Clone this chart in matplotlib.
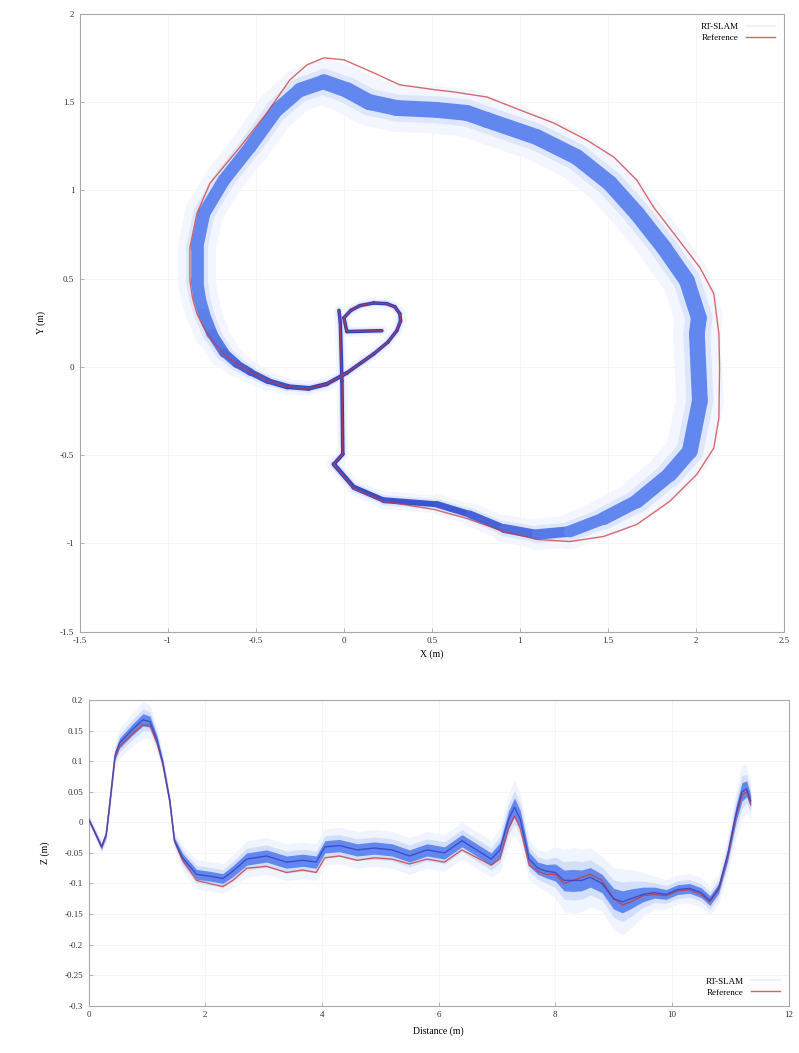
import numpy as np
import matplotlib
matplotlib.use('Agg')
import matplotlib.pyplot as plt
from matplotlib.collections import LineCollection
from matplotlib.colors import to_rgb
from matplotlib.lines import Line2D
from matplotlib.ticker import FuncFormatter

plt.rcParams['font.family'] = ['Liberation Serif', 'DejaVu Serif']

# ---- top: trajectory in the X/Y plane (m) ----
ref_x = [-0.028, -0.023, -0.011, -0.006, -0.057, 0.057, 0.227, 0.511, 0.699, 0.909,
         1.097, 1.284, 1.477, 1.665, 1.852, 2.006, 2.102, 2.131, 2.135, 2.131,
         2.102, 2.023, 1.892, 1.761, 1.665, 1.534, 1.381, 1.193, 1.000, 0.813,
         0.625, 0.528, 0.318, 0.170, 0.000, -0.114, -0.210, -0.307, -0.438, -0.591,
         -0.761, -0.835, -0.875, -0.875, -0.860, -0.835, -0.800, -0.750, -0.680, -0.608,
         -0.530, -0.430, -0.320, -0.200, -0.097, 0.017, 0.170, 0.250, 0.301, 0.322,
         0.318, 0.290, 0.244, 0.170, 0.091, 0.040, 0.000, 0.017, 0.216]
ref_y = [0.320, 0.250, -0.080, -0.494, -0.551, -0.688, -0.761, -0.807, -0.858, -0.932,
         -0.977, -0.989, -0.960, -0.892, -0.761, -0.608, -0.460, -0.290, -0.006, 0.188,
         0.415, 0.563, 0.733, 0.903, 1.057, 1.188, 1.284, 1.381, 1.455, 1.528,
         1.557, 1.568, 1.597, 1.665, 1.739, 1.750, 1.710, 1.625, 1.438, 1.244,
         1.040, 0.869, 0.676, 0.489, 0.390, 0.301, 0.230, 0.150, 0.070, 0.017,
         -0.030, -0.080, -0.112, -0.122, -0.097, -0.034, 0.074, 0.140, 0.205, 0.260,
         0.301, 0.340, 0.358, 0.362, 0.347, 0.320, 0.278, 0.200, 0.205]

slam_x = [-0.028, -0.020, -0.011, -0.006, -0.057, 0.057, 0.227, 0.528, 0.716, 0.909,
          1.097, 1.284, 1.477, 1.665, 1.852, 1.966, 2.023, 2.006, 2.017, 1.949,
          1.818, 1.665, 1.511, 1.324, 1.097, 0.813, 0.699, 0.528, 0.301, 0.142,
          0.017, -0.114, -0.250, -0.381, -0.534, -0.682, -0.795, -0.835, -0.835, -0.820,
          -0.795, -0.750, -0.680, -0.608, -0.530, -0.430, -0.320, -0.200, -0.097, 0.017,
          0.170, 0.250, 0.301, 0.322, 0.318, 0.290, 0.244, 0.170, 0.091, 0.040,
          0.000, 0.017, 0.216]
slam_y = [0.320, 0.250, -0.080, -0.494, -0.551, -0.682, -0.755, -0.778, -0.835, -0.915,
          -0.949, -0.932, -0.858, -0.761, -0.608, -0.477, -0.193, 0.188, 0.278, 0.489,
          0.676, 0.869, 1.040, 1.188, 1.301, 1.398, 1.438, 1.455, 1.466, 1.500,
          1.568, 1.614, 1.568, 1.455, 1.244, 1.057, 0.869, 0.676, 0.489, 0.390,
          0.301, 0.188, 0.080, 0.017, -0.030, -0.080, -0.112, -0.122, -0.097, -0.034,
          0.074, 0.140, 0.205, 0.260, 0.301, 0.340, 0.358, 0.362, 0.347, 0.320,
          0.278, 0.200, 0.205]
slam_spread = [0.010, 0.010, 0.010, 0.010, 0.012, 0.014, 0.016, 0.018, 0.020, 0.024,
               0.028, 0.032, 0.036, 0.040, 0.042, 0.045, 0.045, 0.045, 0.045, 0.045,
               0.045, 0.045, 0.045, 0.045, 0.045, 0.045, 0.045, 0.045, 0.045, 0.045,
               0.045, 0.042, 0.040, 0.038, 0.036, 0.036, 0.036, 0.036, 0.036, 0.035,
               0.034, 0.031, 0.027, 0.023, 0.020, 0.017, 0.015, 0.013, 0.012, 0.011,
               0.010, 0.010, 0.010, 0.010, 0.010, 0.010, 0.010, 0.010, 0.010, 0.010,
               0.010, 0.010, 0.010]

# ---- bottom: height along travelled distance ----
dist = [0.00, 0.05, 0.22, 0.30, 0.36, 0.45, 0.53, 0.75, 0.93, 1.05,
        1.17, 1.27, 1.39, 1.47, 1.61, 1.85, 2.07, 2.30, 2.47, 2.71,
        3.05, 3.39, 3.67, 3.90, 4.05, 4.30, 4.60, 4.90, 5.20, 5.50,
        5.80, 6.10, 6.40, 6.70, 6.90, 7.05, 7.20, 7.30, 7.40, 7.55,
        7.70, 7.85, 8.00, 8.15, 8.30, 8.45, 8.60, 8.80, 9.00, 9.15,
        9.30, 9.50, 9.70, 9.90, 10.10, 10.30, 10.50, 10.65, 10.80, 10.95,
        11.10, 11.20, 11.28, 11.35]
ref_z = [0.005, -0.005, -0.040, -0.020, 0.030, 0.105, 0.125, 0.145, 0.160, 0.158,
         0.130, 0.095, 0.035, -0.030, -0.062, -0.095, -0.100, -0.105, -0.095, -0.075,
         -0.072, -0.082, -0.078, -0.082, -0.058, -0.055, -0.062, -0.058, -0.060, -0.068,
         -0.060, -0.065, -0.045, -0.060, -0.070, -0.060, -0.010, 0.010, -0.010, -0.070,
         -0.080, -0.085, -0.085, -0.100, -0.095, -0.090, -0.085, -0.095, -0.125, -0.135,
         -0.130, -0.120, -0.118, -0.120, -0.112, -0.110, -0.118, -0.130, -0.110, -0.060,
         0.010, 0.045, 0.050, 0.030]
slam_z = [0.005, -0.005, -0.040, -0.020, 0.030, 0.110, 0.130, 0.152, 0.168, 0.165,
          0.135, 0.098, 0.035, -0.030, -0.058, -0.085, -0.088, -0.092, -0.080, -0.060,
          -0.055, -0.065, -0.062, -0.065, -0.040, -0.038, -0.045, -0.042, -0.045, -0.055,
          -0.045, -0.050, -0.030, -0.048, -0.060, -0.045, 0.005, 0.025, 0.005, -0.060,
          -0.075, -0.080, -0.082, -0.095, -0.095, -0.095, -0.090, -0.100, -0.125, -0.130,
          -0.125, -0.118, -0.115, -0.118, -0.110, -0.108, -0.115, -0.128, -0.108, -0.055,
          0.015, 0.050, 0.055, 0.035]
slam_z_spread = [0.003, 0.003, 0.004, 0.004, 0.005, 0.007, 0.008, 0.009, 0.010, 0.009,
                 0.007, 0.005, 0.005, 0.005, 0.007, 0.008, 0.008, 0.008, 0.009, 0.010,
                 0.010, 0.010, 0.010, 0.010, 0.010, 0.010, 0.010, 0.010, 0.010, 0.010,
                 0.010, 0.010, 0.010, 0.010, 0.010, 0.012, 0.014, 0.015, 0.014, 0.011,
                 0.010, 0.011, 0.014, 0.017, 0.018, 0.017, 0.016, 0.015, 0.017, 0.018,
                 0.016, 0.012, 0.009, 0.008, 0.008, 0.008, 0.008, 0.008, 0.008, 0.010,
                 0.013, 0.015, 0.013, 0.010]

blue_dark = np.array(to_rgb('#2b3ec2'))
blue_mid = np.array(to_rgb('#6288ef'))
red = '#cc3b3b'
grey = '#a8a8a8'

fig = plt.figure(figsize=(7.99, 10.53), dpi=100)
ax1 = fig.add_axes([0.100, 0.400, 0.881, 0.587])
ax2 = fig.add_axes([0.111, 0.045, 0.876, 0.290])

ax1.set_xlim(-1.5, 2.5)
ax1.set_ylim(-1.5, 2)
pt_per_m = ax1.bbox.width / 4.0 * 72.0 / fig.dpi


def band(ax, x, y, spread, factor, colors, z):
    pts = np.column_stack([x, y])
    segs = np.stack([pts[:-1], pts[1:]], axis=1)
    s = np.asarray(spread)
    w = (s[:-1] + s[1:]) / 2 * 2 * factor * pt_per_m
    lc = LineCollection(segs, linewidths=w, colors=colors, capstyle='round',
                        joinstyle='round', zorder=z)
    ax.add_collection(lc)


s = np.asarray(slam_spread)
t = np.clip(((s[:-1] + s[1:]) / 2 - 0.010) / 0.025, 0, 1)
seg_cols = [tuple(blue_dark * (1 - v) + blue_mid * v) for v in t]

band(ax1, slam_x, slam_y, slam_spread, 3.0, '#f3f6fe', 1)
band(ax1, slam_x, slam_y, slam_spread, 1.7, '#dde6fc', 2)
band(ax1, slam_x, slam_y, slam_spread, 1.0, seg_cols, 3)
ax1.plot(ref_x, ref_y, color=red, lw=1.0, alpha=0.75, zorder=4)

# bottom panel
ax2.fill_between(dist, np.subtract(slam_z, np.multiply(slam_z_spread, 3.0)),
                 np.add(slam_z, np.multiply(slam_z_spread, 3.0)),
                 color='#f0f4fe', lw=0, zorder=1)
ax2.fill_between(dist, np.subtract(slam_z, np.multiply(slam_z_spread, 1.8)),
                 np.add(slam_z, np.multiply(slam_z_spread, 1.8)),
                 color='#d3defb', lw=0, zorder=2)
ax2.fill_between(dist, np.subtract(slam_z, slam_z_spread),
                 np.add(slam_z, slam_z_spread),
                 color='#6288ef', lw=0, zorder=3)
ax2.plot(dist, ref_z, color=red, lw=1.0, alpha=0.8, zorder=4)
ax2.plot(dist, slam_z, color='#3040c4', lw=1.0, alpha=0.8, zorder=5)

ax2.set_xlim(0, 12)
ax2.set_ylim(-0.3, 0.2)

ax1.set_xticks(np.round(np.arange(-1.5, 2.51, 0.5), 2))
ax1.set_yticks(np.round(np.arange(-1.5, 2.01, 0.5), 2))
ax2.set_xticks(np.round(np.arange(0, 12.1, 2), 2))
ax2.set_yticks(np.round(np.arange(-0.3, 0.201, 0.05), 2))
fmt = FuncFormatter(lambda v, p: '%g' % (round(v, 3) + 0.0))
for ax in (ax1, ax2):
    ax.xaxis.set_major_formatter(fmt)
    ax.yaxis.set_major_formatter(fmt)
    ax.tick_params(labelsize=6.5, length=3, width=0.6, color=grey,
                   direction='in', labelcolor='#333333', pad=4)
    for sp in ax.spines.values():
        sp.set_color(grey)
        sp.set_linewidth(0.8)
    ax.grid(True, color='#f1f1f1', lw=0.5)
    ax.set_axisbelow(True)
    handles = [Line2D([], [], color='#6288ef', alpha=0.12, lw=1.2),
               Line2D([], [], color=red, lw=1.0, alpha=0.8)]
    ax.legend(handles, ['RT-SLAM', 'Reference'], frameon=False,
              markerfirst=False, fontsize=6.5, handlelength=3.2,
              labelspacing=0.3, loc='upper right' if ax is ax1 else 'lower right',
              borderaxespad=0.6)

ax1.set_xlabel('X (m)', fontsize=7, labelpad=3)
ax1.set_ylabel('Y (m)', fontsize=7, labelpad=10)
ax2.set_xlabel('Distance (m)', fontsize=7, labelpad=5)
ax2.set_ylabel('Z (m)', fontsize=7, labelpad=10)

fig.savefig('out.png', dpi=100)
